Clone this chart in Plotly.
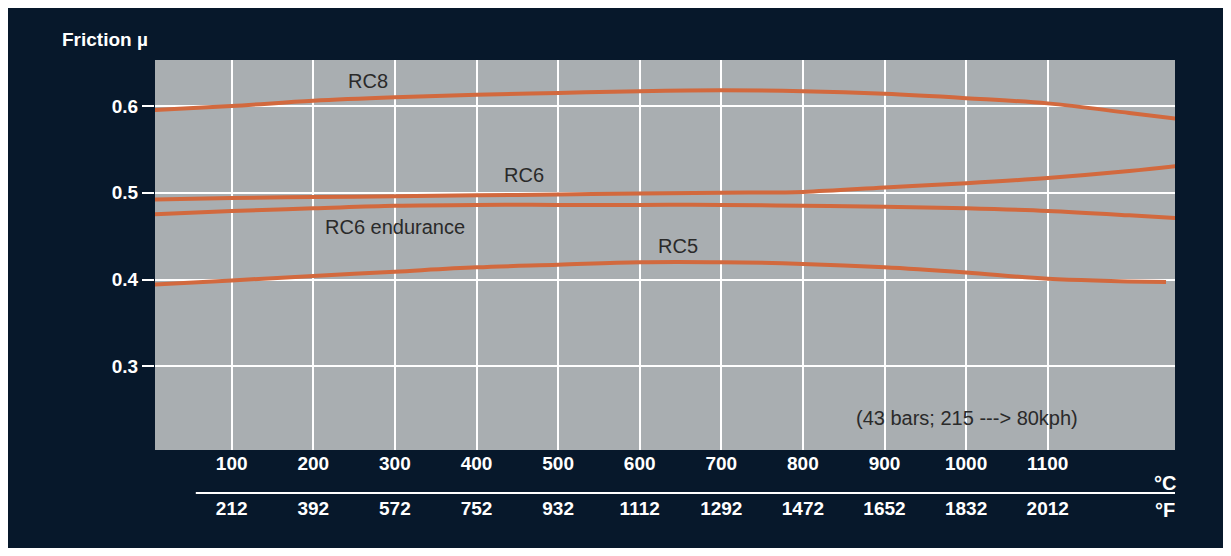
import plotly.graph_objects as go

temp_c = [0, 100, 200, 300, 400, 500, 600, 700, 800, 900, 1000, 1100, 1200, 1270]
rc8 = [0.595, 0.600, 0.606, 0.610, 0.613, 0.615, 0.617, 0.618, 0.617, 0.614, 0.609, 0.603, 0.592, 0.584]
rc6 = [0.492, 0.494, 0.495, 0.496, 0.497, 0.498, 0.499, 0.500, 0.501, 0.506, 0.511, 0.517, 0.525, 0.532]
rc6_end = [0.475, 0.479, 0.482, 0.485, 0.486, 0.486, 0.486, 0.486, 0.485, 0.484, 0.482, 0.479, 0.474, 0.470]
temp_c_rc5 = [0, 100, 200, 300, 400, 500, 600, 700, 800, 900, 1000, 1100, 1245]
rc5 = [0.394, 0.399, 0.404, 0.409, 0.414, 0.417, 0.420, 0.420, 0.418, 0.414, 0.408, 0.401, 0.397]

c_ticks = [100, 200, 300, 400, 500, 600, 700, 800, 900, 1000, 1100]
f_ticks = ["212", "392", "572", "752", "932", "1112", "1292", "1472", "1652", "1832", "2012"]
y_ticks = [0.3, 0.4, 0.5, 0.6]

line_col = "#d2693e"
fig = go.Figure()
for xs, ys in [(temp_c, rc8), (temp_c, rc6), (temp_c, rc6_end), (temp_c_rc5, rc5)]:
    fig.add_trace(go.Scatter(x=xs, y=ys, mode="lines", line=dict(color=line_col, width=4, shape="spline"),
                             cliponaxis=False, showlegend=False, hoverinfo="skip"))
# invisible trace to activate xaxis2 (°F)
fig.add_trace(go.Scatter(x=[6, 1256], y=[0.3, 0.3], xaxis="x2", mode="none", showlegend=False, hoverinfo="skip"))

labels = [("RC8", 267, 0.629), ("RC6", 458, 0.52), ("RC6 endurance", 300, 0.461), ("RC5", 647, 0.439),
          ("(43 bars; 215 ---> 80kph)", 1001, 0.24)]
for t, x, y in labels:
    fig.add_annotation(x=x, y=y, text=t, showarrow=False, font=dict(size=20, color="#2a2a2a",
                       family="Liberation Sans, Arial"))

fig.add_annotation(xref="paper", yref="paper", x=-0.005, y=1.02, xanchor="right", yanchor="bottom",
                   text="<b>Friction µ</b>", showarrow=False, font=dict(size=19, color="white"))
fig.add_annotation(xref="paper", yref="paper", x=0.99, y=-0.085, xanchor="center", yanchor="middle",
                   text="<b>°C</b>", showarrow=False, font=dict(size=20, color="white"))
fig.add_annotation(xref="paper", yref="paper", x=0.99, y=-0.155, xanchor="center", yanchor="middle",
                   text="<b>°F</b>", showarrow=False, font=dict(size=20, color="white"))
fig.add_shape(type="line", xref="paper", yref="paper", x0=0.04, x1=1.0, y0=-0.11, y1=-0.11,
              line=dict(color="white", width=2))

fig.update_layout(
    width=1215, height=540,
    margin=dict(l=147, r=48, t=52, b=98),
    paper_bgcolor="#07182b", plot_bgcolor="#a9aeb1",
    font=dict(family="Liberation Sans, Arial", color="white"),
    xaxis=dict(range=[6, 1256], tickvals=c_ticks, ticktext=[f"<b>{v}</b>" for v in c_ticks],
               showgrid=True, gridcolor="white", gridwidth=2, zeroline=False, ticks="",
               tickfont=dict(size=19, color="white"), showline=False),
    xaxis2=dict(range=[6, 1256], overlaying="x", side="bottom", anchor="free", position=0,
                tickvals=c_ticks, ticktext=[f"<b>{v}</b>" for v in f_ticks], showgrid=False,
                zeroline=False, ticks="", tickfont=dict(size=19, color="white"), ticklabelstandoff=45),
    yaxis=dict(range=[0.2035, 0.653], tickvals=y_ticks, ticktext=[f"<b>{v}</b>" for v in y_ticks],
               showgrid=True, gridcolor="white", gridwidth=2, zeroline=False, ticks="outside",
               ticklen=12, tickwidth=2, tickcolor="white", tickfont=dict(size=19, color="white")),
)
fig.write_html("out.html")
